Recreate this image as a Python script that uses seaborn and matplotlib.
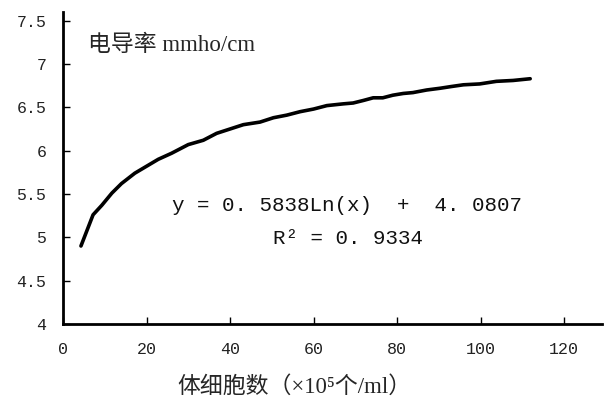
import numpy as np
import pandas as pd
import matplotlib
matplotlib.use("Agg")
import matplotlib.pyplot as plt
import seaborn as sns

# somatic cell count (x10^5 /ml) vs conductivity
cells = [4.3, 7.2, 9.3, 11.7, 14.0, 17.2, 20.0, 22.8, 26.0, 30.0, 33.6, 36.8,
         40.0, 43.2, 47.2, 50.4, 53.6, 56.8, 60.0, 63.2, 67.1, 69.5, 72.0, 74.3,
         76.6, 79.0, 81.5, 83.8, 87.1, 90.3, 93.0, 95.9, 99.8, 103.8, 107.8, 111.9]
conductivity = [4.90, 5.26, 5.37, 5.51, 5.62, 5.74, 5.82, 5.90, 5.97, 6.07, 6.12, 6.20,
                6.25, 6.30, 6.33, 6.38, 6.41, 6.45, 6.48, 6.52, 6.54, 6.55, 6.58, 6.61,
                6.61, 6.64, 6.66, 6.67, 6.70, 6.72, 6.74, 6.76, 6.77, 6.80, 6.81, 6.83]

x_ticks = [0, 20, 40, 60, 80, 100, 120]
y_ticks = [4, 4.5, 5, 5.5, 6, 6.5, 7, 7.5]
y_tick_labels = ["4", "4.5", "5", "5.5", "6", "6.5", "7", "7.5"]

df = pd.DataFrame({"cells": cells, "cond": conductivity})

sns.set_style("ticks")
plt.rcParams["font.family"] = ["Liberation Serif", "Noto Sans CJK SC", "DejaVu Sans"]

fig = plt.figure(figsize=(6.04, 3.96), dpi=100)
ax = fig.add_axes([63 / 604, 72 / 396, 539 / 604, 312 / 396])

sns.lineplot(data=df, x="cells", y="cond", color="black", linewidth=2.6, ax=ax)

ax.set_xlim(0, 129.1)
ax.set_ylim(4, 7.60)
ax.set_xticks(x_ticks)
ax.set_yticks(y_ticks)
ax.set_yticklabels(y_tick_labels)
mono = ["Liberation Mono", "DejaVu Sans Mono"]
for lab in ax.get_xticklabels() + ax.get_yticklabels():
    lab.set_family(mono)
    lab.set_fontsize(12)
    lab.set_color("#222222")
ax.tick_params(axis="both", direction="in", length=5, width=1, color="black")
ax.tick_params(axis="x", pad=13)
ax.tick_params(axis="y", pad=12)
sns.despine(ax=ax)
for s in ["left", "bottom"]:
    ax.spines[s].set_linewidth(2)
    ax.spines[s].set_color("black")

ax.set_ylabel("")
ax.set_xlabel("体细胞数（×10⁵个/ml）", fontsize=16.5)
ax.xaxis.set_label_coords((294 - 63) / 539, -0.165)

ax.text(6.0, 7.22, "电导率 mmho/cm", fontsize=16.5, va="center", ha="left")

ax.text(26.1, 5.37, "y = 0. 5838Ln(x)  +  4. 0807", family=mono, fontsize=15,
        va="center", ha="left", color="#111111")
ax.text(50.3, 4.99, "R² = 0. 9334", family=mono, fontsize=15,
        va="center", ha="left", color="#111111")

fig.savefig("out.png", dpi=100)
